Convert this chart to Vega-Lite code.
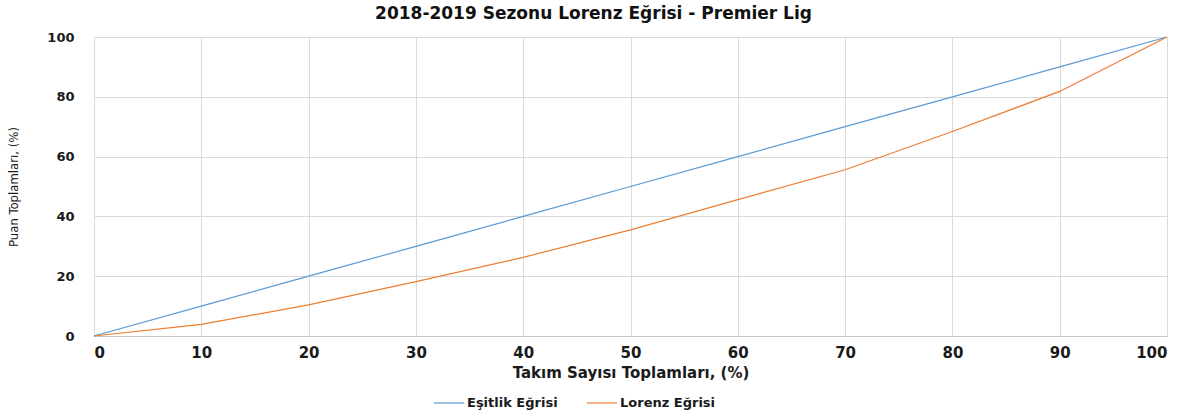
{
  "$schema": "https://vega.github.io/schema/vega-lite/v6.json",
  "width": 1073,
  "height": 299,
  "autosize": {"type": "none"},
  "padding": {"left": 94, "top": 37, "right": 25, "bottom": 76},
  "background": "white",
  "title": {
    "text": "2018-2019 Sezonu Lorenz Eğrisi - Premier Lig",
    "font": "DejaVu Sans",
    "fontSize": 17,
    "fontWeight": "bold",
    "color": "#111111",
    "anchor": "middle",
    "dx": -37,
    "offset": 8
  },
  "data": {
    "values": [
      {"x": 0, "y": 0, "seri": "Eşitlik Eğrisi"},
      {"x": 10, "y": 10, "seri": "Eşitlik Eğrisi"},
      {"x": 20, "y": 20, "seri": "Eşitlik Eğrisi"},
      {"x": 30, "y": 30, "seri": "Eşitlik Eğrisi"},
      {"x": 40, "y": 40, "seri": "Eşitlik Eğrisi"},
      {"x": 50, "y": 50, "seri": "Eşitlik Eğrisi"},
      {"x": 60, "y": 60, "seri": "Eşitlik Eğrisi"},
      {"x": 70, "y": 70, "seri": "Eşitlik Eğrisi"},
      {"x": 80, "y": 80, "seri": "Eşitlik Eğrisi"},
      {"x": 90, "y": 90, "seri": "Eşitlik Eğrisi"},
      {"x": 100, "y": 100, "seri": "Eşitlik Eğrisi"},
      {"x": 0, "y": 0, "seri": "Lorenz Eğrisi"},
      {"x": 10, "y": 3.9, "seri": "Lorenz Eğrisi"},
      {"x": 20, "y": 10.4, "seri": "Lorenz Eğrisi"},
      {"x": 30, "y": 18.2, "seri": "Lorenz Eğrisi"},
      {"x": 40, "y": 26.3, "seri": "Lorenz Eğrisi"},
      {"x": 50, "y": 35.5, "seri": "Lorenz Eğrisi"},
      {"x": 60, "y": 45.6, "seri": "Lorenz Eğrisi"},
      {"x": 70, "y": 55.6, "seri": "Lorenz Eğrisi"},
      {"x": 80, "y": 68.4, "seri": "Lorenz Eğrisi"},
      {"x": 90, "y": 81.8, "seri": "Lorenz Eğrisi"},
      {"x": 100, "y": 100, "seri": "Lorenz Eğrisi"}
    ]
  },
  "mark": {"type": "line", "strokeWidth": 1.2},
  "encoding": {
    "x": {
      "field": "x",
      "type": "quantitative",
      "scale": {"domain": [0, 100], "nice": false},
      "axis": {
        "title": "Takım Sayısı Toplamları, (%)",
        "values": [0, 10, 20, 30, 40, 50, 60, 70, 80, 90, 100],
        "ticks": false,
        "domainColor": "#c8c8c8",
        "gridColor": "#dadada",
        "labelFont": "DejaVu Sans",
        "labelFontWeight": "bold",
        "labelFontSize": 15,
        "labelColor": "#1a1a1a",
        "labelPadding": 9,
        "titleFont": "DejaVu Sans",
        "titleFontWeight": "bold",
        "titleFontSize": 15,
        "titleColor": "#1a1a1a",
        "titlePadding": 5
      }
    },
    "y": {
      "field": "y",
      "type": "quantitative",
      "scale": {"domain": [0, 100], "nice": false},
      "axis": {
        "title": "Puan Toplamları, (%)",
        "values": [0, 20, 40, 60, 80, 100],
        "ticks": false,
        "domain": false,
        "gridColor": "#dadada",
        "labelFont": "DejaVu Sans",
        "labelFontWeight": "bold",
        "labelFontSize": 13,
        "labelColor": "#1a1a1a",
        "labelPadding": 20,
        "titleFont": "Liberation Sans Narrow, DejaVu Sans Condensed, sans-serif",
        "titleFontWeight": "normal",
        "titleFontSize": 13,
        "titleColor": "#1a1a1a",
        "titlePadding": 26
      }
    },
    "color": {
      "field": "seri",
      "type": "nominal",
      "scale": {"domain": ["Eşitlik Eğrisi", "Lorenz Eğrisi"], "range": ["#5B9BD5", "#ED7D31"]},
      "legend": {
        "title": null,
        "orient": "none",
        "direction": "horizontal",
        "legendX": 339,
        "legendY": 350,
        "padding": 0,
        "symbolType": "stroke",
        "symbolSize": 900,
        "symbolStrokeWidth": 1.2,
        "labelFont": "DejaVu Sans",
        "labelFontWeight": "bold",
        "labelFontSize": 13,
        "labelColor": "#1a1a1a",
        "labelOffset": 2,
        "columnPadding": 26
      }
    }
  },
  "config": {"view": {"stroke": null}}
}
